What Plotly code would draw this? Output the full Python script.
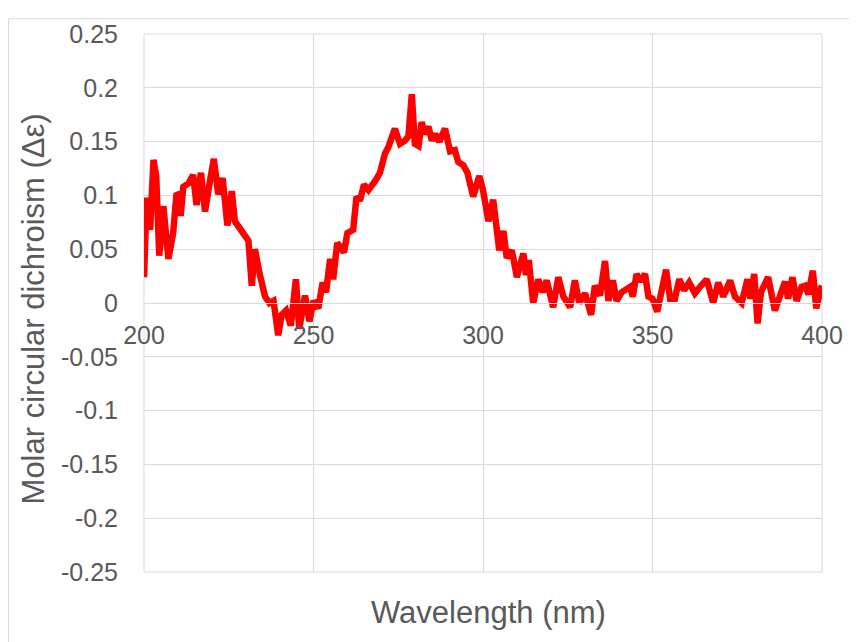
import plotly.graph_objects as go

wavelength_nm = [
    200.0, 200.8, 201.8, 202.8, 203.6, 204.5, 205.7, 207.2, 208.6, 209.6,
    210.4, 210.8, 211.6, 213.1, 214.5, 215.5, 216.8, 218.0, 219.5, 220.6,
    221.9, 223.2, 224.6, 225.9, 226.8, 229.3, 230.8, 231.8, 232.7, 234.2,
    235.7, 237.0, 238.2, 239.6, 240.6, 241.9, 243.3, 244.8, 245.8, 247.5,
    248.8, 250.0, 251.4, 252.7, 253.7, 254.9, 255.8, 257.0, 259.0, 260.0,
    261.7, 262.7, 263.7, 264.9, 266.2, 268.1, 269.6, 271.1, 272.1, 274.0,
    275.5, 277.0, 278.0, 279.0, 279.9, 281.0, 281.9, 282.9, 283.9, 284.9,
    285.9, 287.1, 288.8, 290.3, 291.7, 292.7, 294.2, 295.4, 297.1, 298.9,
    300.0, 301.6, 303.0, 304.8, 306.0, 307.0, 308.5, 310.0, 311.9, 312.7,
    313.5, 314.8, 316.3, 317.6, 318.8, 320.7, 322.2, 323.7, 325.7, 327.1,
    328.4, 330.1, 331.9, 333.0, 334.5, 336.0, 337.0, 338.3, 339.4, 340.9,
    342.2, 343.4, 344.2, 345.3, 346.5, 347.8, 348.8, 350.0, 351.4, 352.7,
    354.0, 355.2, 356.6, 357.9, 359.3, 360.8, 362.5, 364.0, 366.0, 367.9,
    369.4, 370.9, 372.9, 374.3, 376.3, 378.0, 378.9, 380.0, 381.0, 382.0,
    383.1, 384.1, 386.1, 387.6, 389.1, 390.0, 391.3, 392.5, 394.0, 395.0,
    396.0, 397.3, 398.3, 399.5, 400.0,
]

delta_epsilon = [
    0.024, 0.098, 0.068, 0.133, 0.118, 0.044, 0.090, 0.041, 0.065, 0.102,
    0.100, 0.081, 0.108, 0.111, 0.119, 0.091, 0.121, 0.085, 0.114, 0.134,
    0.101, 0.116, 0.072, 0.104, 0.076, 0.064, 0.058, 0.016, 0.050, 0.026,
    0.006, 0.000, 0.002, -0.030, -0.011, -0.007, -0.021, 0.022, -0.024, 0.007,
    -0.017, 0.002, -0.005, 0.019, 0.010, 0.041, 0.022, 0.056, 0.047, 0.065,
    0.068, 0.099, 0.095, 0.110, 0.105, 0.113, 0.121, 0.139, 0.145, 0.162,
    0.148, 0.151, 0.155, 0.194, 0.148, 0.146, 0.168, 0.157, 0.164, 0.151,
    0.157, 0.150, 0.162, 0.141, 0.142, 0.131, 0.128, 0.121, 0.099, 0.118,
    0.105, 0.076, 0.096, 0.049, 0.067, 0.042, 0.049, 0.024, 0.046, 0.026,
    0.040, 0.000, 0.022, 0.010, 0.021, -0.004, 0.024, 0.006, -0.004, 0.021,
    0.000, 0.009, -0.011, 0.016, 0.007, 0.039, 0.002, 0.021, 0.002, 0.010,
    0.013, 0.015, 0.006, 0.027, 0.020, 0.027, 0.006, 0.004, -0.008, 0.010,
    0.031, 0.004, 0.004, 0.022, 0.012, 0.019, 0.009, 0.015, 0.022, 0.000,
    0.019, 0.006, 0.021, 0.006, 0.000, 0.022, 0.004, 0.027, -0.019, 0.010,
    0.019, 0.024, -0.007, 0.009, 0.020, 0.004, 0.024, 0.002, 0.015, 0.016,
    0.008, 0.030, -0.005, 0.012, 0.016,
]

x_tick_values = [200, 250, 300, 350, 400]
x_tick_labels = ["200", "250", "300", "350", "400"]
y_tick_values = [-0.25, -0.2, -0.15, -0.1, -0.05, 0, 0.05, 0.1, 0.15, 0.2, 0.25]
y_tick_labels = ["-0.25", "-0.2", "-0.15", "-0.1", "-0.05", "0",
                 "0.05", "0.1", "0.15", "0.2", "0.25"]

x_title = "Wavelength (nm)"
y_title = "Molar circular dichroism (Δε)"

FONT = "Liberation Sans, Arial, sans-serif"
TXT = "#595959"
GRID = "#D9D9D9"

fig = go.Figure()
fig.add_trace(go.Scatter(
    x=wavelength_nm, y=delta_epsilon, mode="lines",
    line=dict(color="#FF0000", width=6.5),
    showlegend=False, hoverinfo="skip",
))

fig.update_layout(
    width=849, height=634,
    margin=dict(l=136, r=35, t=21, b=70),
    paper_bgcolor="white", plot_bgcolor="white",
    font=dict(family=FONT, color=TXT, size=25),
    xaxis=dict(
        range=[200, 400], tickvals=x_tick_values, ticktext=x_tick_labels,
        showgrid=True, gridcolor=GRID, gridwidth=1,
        anchor="free", position=0.5,
        showline=True, linecolor=GRID, linewidth=1,
        ticks="outside", ticklen=10, tickcolor="rgba(0,0,0,0)",
        tickfont=dict(size=25, color=TXT, family=FONT),
        zeroline=False,
    ),
    yaxis=dict(
        range=[-0.25, 0.25], domain=[0, 1],
        tickvals=y_tick_values, ticktext=y_tick_labels,
        showgrid=True, gridcolor=GRID, gridwidth=1,
        zeroline=False, showline=False,
        ticks="outside", ticklen=20, tickcolor="rgba(0,0,0,0)",
        tickfont=dict(size=25, color=TXT, family=FONT),
    ),
    shapes=[
        dict(type="rect", xref="paper", yref="paper", x0=0, x1=1, y0=0, y1=1,
             line=dict(color=GRID, width=1), layer="below"),
        dict(type="rect", xref="paper", yref="paper",
             x0=(8.5 - 144) / 678, x1=1.2, y0=-0.3, y1=1 + (29 - 13.5) / 543,
             line=dict(color=GRID, width=1), layer="below"),
    ],
    annotations=[
        dict(text=x_title, xref="paper", yref="paper",
             x=(488 - 144) / 678, y=(572 - 613) / 543,
             xanchor="center", yanchor="middle", showarrow=False,
             font=dict(size=31, color=TXT, family=FONT)),
        dict(text=y_title, xref="paper", yref="paper",
             x=(33 - 144) / 678, y=(572 - 307) / 543, textangle=-90,
             xanchor="center", yanchor="middle", showarrow=False,
             font=dict(size=31, color=TXT, family=FONT)),
    ],
)

fig.write_html("out.html")
